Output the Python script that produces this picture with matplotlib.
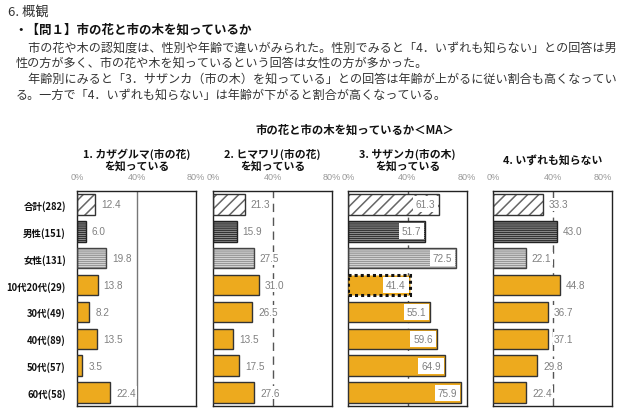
import matplotlib
matplotlib.use("Agg")
import matplotlib.pyplot as plt

plt.rcParams['font.family'] = ['Noto Sans CJK JP', 'DejaVu Sans']
plt.rcParams['hatch.linewidth'] = 1.1

categories = ["合計(282)", "男性(151)", "女性(131)", "10代20代(29)", "30代(49)", "40代(89)", "50代(57)", "60代(58)"]
panel_titles = ["1. カザグルマ(市の花)\nを知っている", "2. ヒマワリ(市の花)\nを知っている",
                "3. サザンカ(市の木)\nを知っている", "4. いずれも知らない"]
v1 = [12.4, 6.0, 19.8, 13.8, 8.2, 13.5, 3.5, 22.4]
v2 = [21.3, 15.9, 27.5, 31.0, 26.5, 13.5, 17.5, 27.6]
v3 = [61.3, 51.7, 72.5, 41.4, 55.1, 59.6, 64.9, 75.9]
v4 = [33.3, 43.0, 22.1, 44.8, 36.7, 37.1, 29.8, 22.4]
series = [v1, v2, v3, v4]
xticks = [0, 40, 80]
xticklabels = ["0%", "40%", "80%"]

W, H = 620, 414
fig = plt.figure(figsize=(6.2, 4.14), dpi=100)

def fx(px):
    return px / W

def fy(py):
    return 1 - py / H

# Header text
fig.text(fx(8), fy(12), "6. 概観", fontsize=9.5, va="center", ha="left", color="#333333")
fig.text(fx(14), fy(30), "・【問１】市の花と市の木を知っているか", fontsize=9, fontweight="bold",
         va="center", ha="left", color="#111111")
para = [
    (16, 48, "\u3000市の花や木の認知度は、性別や年齢で違いがみられた。性別でみると「4．いずれも知らない」との回答は男"),
    (16, 63, "性の方が多く、市の花や木を知っているという回答は女性の方が多かった。"),
    (16, 79, "\u3000年齢別にみると「3．サザンカ（市の木）を知っている」との回答は年齢が上がるに従い割合も高くなってい"),
    (16, 95, "る。一方で「4．いずれも知らない」は年齢が下がると割合が高くなっている。"),
]
for x, y, t in para:
    fig.text(fx(x), fy(y), t, fontsize=8.7, va="center", ha="left", color="#333333")

fig.text(fx(355), fy(130), "市の花と市の木を知っているか＜MA＞", fontsize=8.2, fontweight="bold",
         va="center", ha="center", color="#111111")

lefts = [77, 213, 348, 493]
ax_w = 119
top_px, bot_px = 192, 407
orange = "#EDAA1E"
n = len(categories)
ypos = list(range(n))

for i, (lp, vals) in enumerate(zip(lefts, series)):
    ax = fig.add_axes([fx(lp), fy(bot_px), ax_w / W, (bot_px - top_px) / H])
    ax.set_xlim(0, 80)
    ax.set_ylim(n - 0.5, -0.5)
    # 40% reference line
    if i == 0:
        ax.axvline(40, color="#777777", lw=1.0, zorder=0)
    else:
        ax.axvline(40, color="#555555", lw=1.0, ls=(0, (6, 4)), zorder=0)
    h = 0.76
    for j, v in enumerate(vals):
        if j == 0:
            ax.barh(j, v, height=h, color="white", edgecolor="#666666", hatch="///", lw=0, zorder=2)
            ax.barh(j, v, height=h, color="none", edgecolor="#333333", lw=1.0, zorder=3)
        elif j == 1:
            ax.barh(j, v, height=h, color="#d0d0d0", edgecolor="#333333", hatch="--------", lw=0, zorder=2)
            ax.barh(j, v, height=h, color="none", edgecolor="#222222", lw=1.0, zorder=3)
        elif j == 2:
            ax.barh(j, v, height=h, color="white", edgecolor="#999999", hatch="--------", lw=0, zorder=2)
            ax.barh(j, v, height=h, color="none", edgecolor="#444444", lw=1.0, zorder=3)
        else:
            if i == 2 and j == 3:
                ax.barh(j, v, height=h, color=orange, edgecolor="#111111", lw=2.2, ls=(0, (1, 1)), zorder=3)
            else:
                ax.barh(j, v, height=h, color=orange, edgecolor="#333333", lw=1.0, zorder=3)
        if i == 2:
            ax.text(v - 2.5, j, f"{v:.1f}", ha="right", va="center", fontsize=7.2, color="#808080",
                    family=["Liberation Sans", "DejaVu Sans"], zorder=5,
                    bbox=dict(boxstyle="square,pad=0.3", fc="white", ec="none"))
        else:
            ax.text(v + 4.0, j, f"{v:.1f}", ha="left", va="center", fontsize=7.2, color="#808080",
                    family=["Liberation Sans", "DejaVu Sans"], zorder=5,
                    bbox=dict(boxstyle="square,pad=0.15", fc="white", ec="none"))
    ax.xaxis.tick_top()
    ax.set_xticks(xticks)
    ax.set_xticklabels(xticklabels, fontsize=6.6, color="#999999", family=["Liberation Sans", "DejaVu Sans"])
    ax.tick_params(axis="x", length=0, pad=7)
    if i == 3:
        ax.get_xticklabels()[-1].set_horizontalalignment("right")
        ax.get_xticklabels()[-1].set_x(81.5)
    for s in ax.spines.values():
        s.set_color("#222222")
        s.set_linewidth(1.0)
    if i == 0:
        ax.set_yticks(ypos)
        ax.set_yticklabels(categories, fontsize=6.8, fontweight="bold", color="#111111")
        ax.tick_params(axis="y", length=0, pad=8)
    else:
        ax.set_yticks([])
    cx = lp + ax_w / 2
    ax_title_y = 160
    fig.text(fx(cx), fy(ax_title_y), panel_titles[i], fontsize=7.8, fontweight="bold",
             ha="center", va="center", color="#111111", linespacing=1.15)

fig.savefig("out.png", dpi=100)
